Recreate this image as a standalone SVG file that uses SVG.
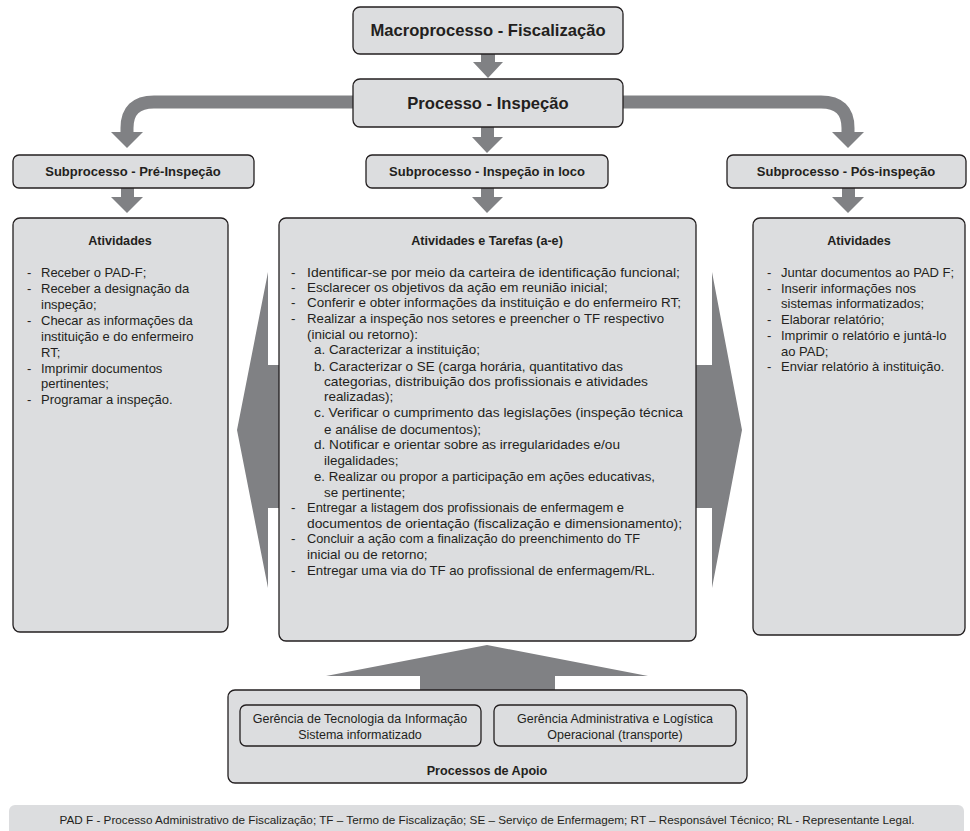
<svg xmlns="http://www.w3.org/2000/svg" width="970" height="831" viewBox="0 0 970 831">
<style>
.box{fill:#dcdddf;stroke:#231f20;stroke-width:1.3}
.arr{fill:#808184}
.arrs{fill:none;stroke:#808184;stroke-width:13}
text{font-family:"Liberation Sans",Arial,sans-serif;fill:#231f20}
.h1{font-size:16.6px;font-weight:bold;text-anchor:middle}
.h2{font-size:13px;font-weight:bold;text-anchor:middle}
.h3{font-size:12.6px;font-weight:bold;text-anchor:middle}
.t{font-size:13px}
.m{font-size:13.4px}
.c{font-size:12.5px;text-anchor:middle}
.f{font-size:10.5px;text-anchor:middle}
</style>
<rect width="970" height="831" fill="#ffffff"/>
<g id="connectors">
  <polygon class="arr" points="481,54 495,54 495,62 503,62 488,78 473,62 481,62"/>
  <path class="arrs" d="M353,102 H154 Q127,102 127,128 V133"/>
  <polygon class="arr" points="111,132 143,132 127,148"/>
  <path class="arrs" d="M623,102 H821 Q848,102 848,128 V133"/>
  <polygon class="arr" points="832,132 864,132 848,148"/>
  <polygon class="arr" points="481,127 494,127 494,137 503,137 487,153 472,137 481,137"/>
  <polygon class="arr" points="121,188 134,188 134,197 143,197 127,213 111,197 121,197"/>
  <polygon class="arr" points="481,188 494,188 494,197 503,197 487,213 472,197 481,197"/>
  <polygon class="arr" points="842,188 855,188 855,197 864,197 848,213 832,197 842,197"/>
  <polygon class="arr" points="280,365 268,365 268,272 237,430 268,588 268,508 280,508"/>
  <polygon class="arr" points="695,365 712,365 712,272 742,430 712,588 712,508 695,508"/>
  <polygon class="arr" points="420,691 420,676 326,676 487,645 648,676 555,676 555,691"/>
</g>
<g id="macro">
  <rect class="box" x="353" y="7" width="270" height="47" rx="7"/>
  <text class="h1" x="488" y="36">Macroprocesso - Fiscalização</text>
</g>
<g id="processo">
  <rect class="box" x="353" y="79" width="270" height="48" rx="7"/>
  <text class="h1" x="488" y="109">Processo - Inspeção</text>
</g>
<g id="sub-pre">
  <rect class="box" x="13" y="155" width="241" height="33" rx="6"/>
  <text class="h2" x="133" y="176">Subprocesso - Pré-Inspeção</text>
</g>
<g id="sub-loco">
  <rect class="box" x="366" y="155" width="242" height="33" rx="6"/>
  <text class="h2" x="487" y="176">Subprocesso - Inspeção in loco</text>
</g>
<g id="sub-pos">
  <rect class="box" x="727" y="155" width="239" height="33" rx="6"/>
  <text class="h2" x="846" y="176">Subprocesso - Pós-inspeção</text>
</g>
<g id="ativ-pre">
  <rect class="box" x="13" y="218" width="215" height="414" rx="7"/>
  <text class="h3" x="120" y="245">Atividades</text>
  <g class="t">
    <text x="27" y="277">-</text><text x="41" y="277">Receber o PAD-F;</text>
    <text x="27" y="293">-</text><text x="41" y="293">Receber a designação da</text>
    <text x="41" y="309">inspeção;</text>
    <text x="27" y="325">-</text><text x="41" y="325">Checar as informações da</text>
    <text x="41" y="341">instituição e do enfermeiro</text>
    <text x="41" y="357">RT;</text>
    <text x="27" y="373">-</text><text x="41" y="373">Imprimir documentos</text>
    <text x="41" y="388">pertinentes;</text>
    <text x="27" y="404">-</text><text x="41" y="404">Programar a inspeção.</text>
  </g>
</g>
<g id="ativ-loco">
  <rect class="box" x="279" y="218" width="417" height="423" rx="7"/>
  <text class="h3" x="487" y="245">Atividades e Tarefas (a-e)</text>
  <g class="m">
    <text x="291" y="277">-</text><text x="307" y="277" textLength="373" lengthAdjust="spacingAndGlyphs">Identificar-se por meio da carteira de identificação funcional;</text>
    <text x="291" y="292">-</text><text x="307" y="292">Esclarecer os objetivos da ação em reunião inicial;</text>
    <text x="291" y="307">-</text><text x="307" y="307" textLength="374" lengthAdjust="spacingAndGlyphs">Conferir e obter informações da instituição e do enfermeiro RT;</text>
    <text x="291" y="323">-</text><text x="307" y="323" textLength="357" lengthAdjust="spacingAndGlyphs">Realizar a inspeção nos setores e preencher o TF respectivo</text>
    <text x="307" y="339">(inicial ou retorno):</text>
    <text x="314" y="354">a. Caracterizar a instituição;</text>
    <text x="314" y="371" textLength="309" lengthAdjust="spacingAndGlyphs">b. Caracterizar o SE (carga horária, quantitativo das</text>
    <text x="324" y="386" textLength="324" lengthAdjust="spacingAndGlyphs">categorias, distribuição dos profissionais e atividades</text>
    <text x="324" y="401">realizadas);</text>
    <text x="314" y="417" textLength="369" lengthAdjust="spacingAndGlyphs">c. Verificar o cumprimento das legislações (inspeção técnica</text>
    <text x="324" y="434">e análise de documentos);</text>
    <text x="314" y="449" textLength="306" lengthAdjust="spacingAndGlyphs">d. Notificar e orientar sobre as irregularidades e/ou</text>
    <text x="324" y="465">ilegalidades;</text>
    <text x="314" y="481" textLength="341" lengthAdjust="spacingAndGlyphs">e. Realizar ou propor a participação em ações educativas,</text>
    <text x="324" y="497">se pertinente;</text>
    <text x="291" y="512">-</text><text x="307" y="512" textLength="317" lengthAdjust="spacingAndGlyphs">Entregar a listagem dos profissionais de enfermagem e</text>
    <text x="307" y="528" textLength="375" lengthAdjust="spacingAndGlyphs">documentos de orientação (fiscalização e dimensionamento);</text>
    <text x="291" y="543">-</text><text x="307" y="543" textLength="333" lengthAdjust="spacingAndGlyphs">Concluir a ação com a finalização do preenchimento do TF</text>
    <text x="307" y="559">inicial ou de retorno;</text>
    <text x="291" y="575">-</text><text x="307" y="575" textLength="348" lengthAdjust="spacingAndGlyphs">Entregar uma via do TF ao profissional de enfermagem/RL.</text>
  </g>
</g>
<g id="ativ-pos">
  <rect class="box" x="753" y="218" width="212" height="417" rx="7"/>
  <text class="h3" x="859" y="245">Atividades</text>
  <g class="t">
    <text x="767" y="277">-</text><text x="781" y="277">Juntar documentos ao PAD F;</text>
    <text x="767" y="293">-</text><text x="781" y="293">Inserir informações nos</text>
    <text x="781" y="308">sistemas informatizados;</text>
    <text x="767" y="324">-</text><text x="781" y="324">Elaborar relatório;</text>
    <text x="767" y="340">-</text><text x="781" y="340">Imprimir o relatório e juntá-lo</text>
    <text x="781" y="356">ao PAD;</text>
    <text x="767" y="371">-</text><text x="781" y="371">Enviar relatório à instituição.</text>
  </g>
</g>
<g id="apoio">
  <rect class="box" x="228" y="690" width="519" height="93" rx="7"/>
  <text class="h3" x="487" y="775">Processos de Apoio</text>
</g>
<g id="apoio-ti">
  <rect class="box" x="240" y="705" width="241" height="41" rx="6"/>
  <text class="c" x="360" y="723">Gerência de Tecnologia da Informação</text>
  <text class="c" x="360" y="739">Sistema informatizado</text>
</g>
<g id="apoio-adm">
  <rect class="box" x="494" y="705" width="242" height="41" rx="6"/>
  <text class="c" x="615" y="723">Gerência Administrativa e Logística</text>
  <text class="c" x="615" y="739">Operacional (transporte)</text>
</g>
<g id="legenda">
  <rect x="9" y="805" width="955" height="40" rx="6" fill="#dcdddf"/>
  <text class="f" x="487" y="824" textLength="855" lengthAdjust="spacingAndGlyphs">PAD F - Processo Administrativo de Fiscalização; TF – Termo de Fiscalização; SE – Serviço de Enfermagem; RT – Responsável Técnico; RL - Representante Legal.</text>
</g>
</svg>
